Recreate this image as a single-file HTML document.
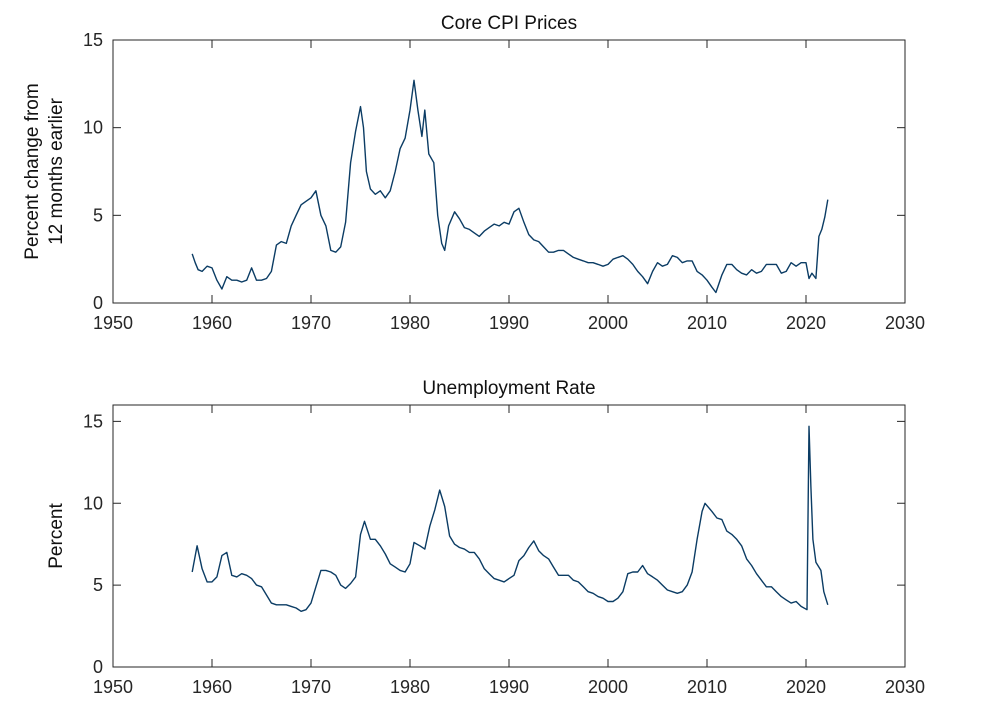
<!DOCTYPE html>
<html><head><meta charset="utf-8"><style>
body{margin:0;background:#fff;}
svg{display:block;font-family:"Liberation Sans",sans-serif;}
</style></head><body>
<svg id="chart" width="1000" height="714"></svg>
<script>
const years = [1950,1960,1970,1980,1990,2000,2010,2020,2030];
const cpiTicks = [0,5,10,15];
const unTicks = [0,5,10,15];
const cpiX = [1958.0,1958.3,1958.6,1959,1959.5,1960,1960.5,1961,1961.5,1962,1962.5,1963,1963.5,1964,1964.5,1965,1965.5,1966,1966.5,1967,1967.5,1968,1968.5,1969,1969.5,1970,1970.5,1971,1971.5,1972,1972.5,1973,1973.5,1974,1974.5,1975,1975.3,1975.6,1976,1976.5,1977,1977.5,1978,1978.5,1979,1979.5,1980,1980.4,1980.8,1981.2,1981.5,1981.9,1982.4,1982.8,1983.2,1983.5,1983.9,1984.5,1985,1985.5,1986,1986.5,1987,1987.5,1988,1988.5,1989,1989.5,1990,1990.5,1991,1991.5,1992,1992.5,1993,1993.5,1994,1994.5,1995,1995.5,1996,1996.5,1997,1997.5,1998,1998.5,1999,1999.5,2000,2000.5,2001,2001.5,2002,2002.5,2003,2003.5,2004,2004.5,2005,2005.5,2006,2006.5,2007,2007.5,2008,2008.5,2009,2009.5,2010,2010.5,2010.9,2011.5,2012,2012.5,2013,2013.5,2014,2014.5,2015,2015.5,2016,2016.5,2017,2017.5,2018,2018.5,2019,2019.5,2020,2020.3,2020.6,2021,2021.3,2021.6,2021.9,2022.2];
const cpiY = [2.8,2.3,1.9,1.8,2.1,2.0,1.3,0.8,1.5,1.3,1.3,1.2,1.3,2.0,1.3,1.3,1.4,1.8,3.3,3.5,3.4,4.4,5.0,5.6,5.8,6.0,6.4,5.0,4.4,3.0,2.9,3.2,4.6,8.0,9.8,11.2,10.0,7.5,6.5,6.2,6.4,6.0,6.4,7.5,8.8,9.4,11.0,12.7,11.0,9.5,11.0,8.5,8.0,5.0,3.4,3.0,4.4,5.2,4.8,4.3,4.2,4.0,3.8,4.1,4.3,4.5,4.4,4.6,4.5,5.2,5.4,4.6,3.9,3.6,3.5,3.2,2.9,2.9,3.0,3.0,2.8,2.6,2.5,2.4,2.3,2.3,2.2,2.1,2.2,2.5,2.6,2.7,2.5,2.2,1.8,1.5,1.1,1.8,2.3,2.1,2.2,2.7,2.6,2.3,2.4,2.4,1.8,1.6,1.3,0.9,0.6,1.6,2.2,2.2,1.9,1.7,1.6,1.9,1.7,1.8,2.2,2.2,2.2,1.7,1.8,2.3,2.1,2.3,2.3,1.4,1.7,1.4,3.8,4.2,4.9,5.9];
const unX = [1958,1958.5,1959,1959.5,1960,1960.5,1961,1961.5,1962,1962.5,1963,1963.5,1964,1964.5,1965,1965.5,1966,1966.5,1967,1967.5,1968,1968.5,1969,1969.5,1970,1970.5,1971,1971.5,1972,1972.5,1973,1973.5,1974,1974.5,1975,1975.4,1976,1976.5,1977,1977.5,1978,1978.5,1979,1979.5,1980,1980.4,1981,1981.5,1982,1982.5,1983,1983.5,1984,1984.5,1985,1985.5,1986,1986.5,1987,1987.5,1988,1988.5,1989,1989.5,1990,1990.5,1991,1991.5,1992,1992.5,1993,1993.5,1994,1994.5,1995,1995.5,1996,1996.5,1997,1997.5,1998,1998.5,1999,1999.5,2000,2000.5,2001,2001.5,2002,2002.5,2003,2003.5,2004,2004.5,2005,2005.5,2006,2006.5,2007,2007.5,2008,2008.5,2009,2009.5,2009.8,2010.5,2011,2011.5,2012,2012.5,2013,2013.5,2014,2014.5,2015,2015.5,2016,2016.5,2017,2017.5,2018,2018.5,2019,2019.5,2020.1,2020.3,2020.5,2020.7,2021,2021.5,2021.8,2022.2];
const unY = [5.8,7.4,6.0,5.2,5.2,5.5,6.8,7.0,5.6,5.5,5.7,5.6,5.4,5.0,4.9,4.4,3.9,3.8,3.8,3.8,3.7,3.6,3.4,3.5,3.9,4.9,5.9,5.9,5.8,5.6,5.0,4.8,5.1,5.5,8.1,8.9,7.8,7.8,7.4,6.9,6.3,6.1,5.9,5.8,6.3,7.6,7.4,7.2,8.6,9.6,10.8,9.8,8.0,7.5,7.3,7.2,7.0,7.0,6.6,6.0,5.7,5.4,5.3,5.2,5.4,5.6,6.5,6.8,7.3,7.7,7.1,6.8,6.6,6.1,5.6,5.6,5.6,5.3,5.2,4.9,4.6,4.5,4.3,4.2,4.0,4.0,4.2,4.6,5.7,5.8,5.8,6.2,5.7,5.5,5.3,5.0,4.7,4.6,4.5,4.6,5.0,5.8,7.8,9.5,10.0,9.5,9.1,9.0,8.3,8.1,7.8,7.4,6.6,6.2,5.7,5.3,4.9,4.9,4.6,4.3,4.1,3.9,4.0,3.7,3.5,14.7,11.0,7.8,6.4,5.9,4.6,3.8];

const NS="http://www.w3.org/2000/svg";
const svg=document.getElementById('chart');
function mk(tag,attrs,parent){const e=document.createElementNS(NS,tag);for(const k in attrs)e.setAttribute(k,attrs[k]);(parent||svg).appendChild(e);return e;}
const L=113,R=905;
function xs(v){return L+(v-1950)/(2030-1950)*(R-L);}

function panel(name,top,bot,ymax,yt,xv,yv,title,ylabels){
  const g=mk('g',{});
  
  
  const ys=v=>bot-(v/ymax)*(bot-top);
  const box=mk('rect',{x:L,y:top,width:R-L,height:bot-top,fill:'none',stroke:'#262626','stroke-width':1},g);
  
  
  years.forEach(v=>{
    const x=xs(v);
    mk('line',{x1:x,x2:x,y1:bot,y2:bot-8,stroke:'#262626'},g);
    mk('line',{x1:x,x2:x,y1:top,y2:top+8,stroke:'#262626'},g);
    const t=mk('text',{x:x,y:bot+26,'text-anchor':'middle','font-size':18,fill:'#262626'},g);
    t.textContent=v;
    
    
  });
  yt.forEach(v=>{
    const y=ys(v);
    mk('line',{x1:L,x2:L+8,y1:y,y2:y,stroke:'#262626'},g);
    mk('line',{x1:R,x2:R-8,y1:y,y2:y,stroke:'#262626'},g);
    const t=mk('text',{x:L-10,y:y+6,'text-anchor':'end','font-size':18,fill:'#262626'},g);
    t.textContent=v;
    
    
  });
  const tt=mk('text',{x:(L+R)/2,y:top-11,'text-anchor':'middle','font-size':19,fill:'#111'},g);
  tt.textContent=title;
  
  
  const cy=(top+bot)/2;
  ylabels.forEach((s,i)=>{
    const x=ylabels.length===1?62:38+i*24;
    const t=mk('text',{x:x,y:cy,'text-anchor':'middle','font-size':19,fill:'#111',transform:`rotate(-90 ${x} ${cy})`},g);
    t.textContent=s;
    
    
  });
  const d=xv.map((v,i)=>(i?'L':'M')+xs(v).toFixed(1)+','+ys(yv[i]).toFixed(1)).join('');
  const p=mk('path',{d:d,fill:'none',stroke:'#0b3c64','stroke-width':1.4,'stroke-linejoin':'round'},g);
  
  
}
panel('core-cpi',40,303,15,cpiTicks,cpiX,cpiY,'Core CPI Prices',['Percent change from','12 months earlier']);
panel('unemployment',405,667,16,unTicks,unX,unY,'Unemployment Rate',['Percent']);
</script>
</body></html>
